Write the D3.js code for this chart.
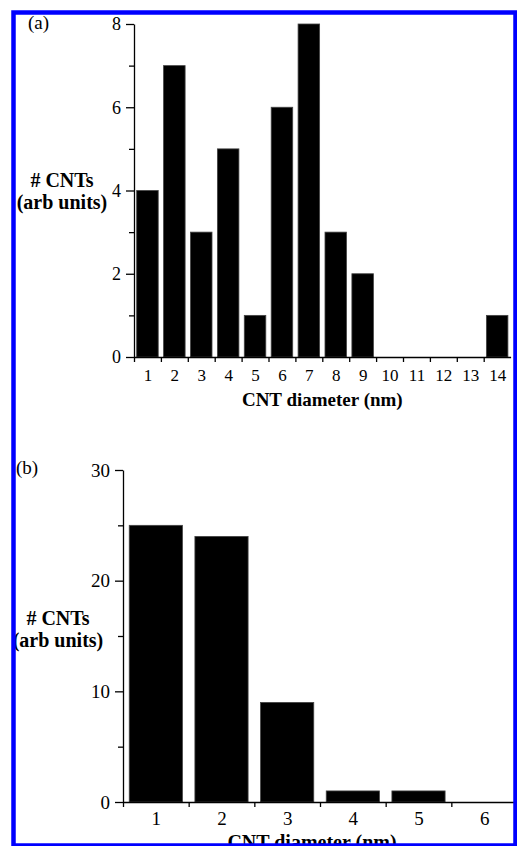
<!DOCTYPE html>
<html><head><meta charset="utf-8">
<script src="https://cdn.jsdelivr.net/npm/d3@7"></script>
<style>html,body{margin:0;padding:0;background:#fff;}svg{display:block;}</style>
</head><body>
<script>
// Panel (a)
const catsA = [1,2,3,4,5,6,7,8,9,10,11,12,13,14];
const valsA = [4,7,3,5,1,6,8,3,2,0,0,0,0,1];
const yTicksA = [0,2,4,6,8];
const yMinorA = [1,3,5,7];
// Panel (b)
const catsB = [1,2,3,4,5,6];
const valsB = [25,24,9,1,1,0];
const yTicksB = [0,10,20,30];
const yMinorB = [5,15,25];

const W = 517, H = 846;
const svg = d3.select("body").append("svg").attr("width", W).attr("height", H);
const serif = "Liberation Serif, Times New Roman, serif";

function panel(cfg) {
  const x = d3.scaleLinear().domain([0.5, cfg.cats.length + 0.5]).range([cfg.x0, cfg.x1]);
  const y = d3.scaleLinear().domain([0, cfg.ymax]).range([cfg.y0, cfg.y1]);
  const g = svg.append("g");
  g.selectAll("rect.bar").data(cfg.cats.map((c,i)=>({c, v: cfg.vals[i]})).filter(d=>d.v>0))
    .enter().append("rect").attr("class","bar")
    .attr("x", d => x(d.c - cfg.bw/2)).attr("width", d => x(d.c + cfg.bw/2) - x(d.c - cfg.bw/2))
    .attr("y", d => y(d.v)).attr("height", d => y(0) - y(d.v))
    .attr("fill", "#000").attr("stroke", "#444").attr("stroke-width", 0.8);
  const ya = g.append("g").attr("transform", `translate(${cfg.x0},0)`)
    .call(d3.axisLeft(y).tickValues(cfg.yTicks).tickSize(8).tickSizeOuter(0).tickPadding(5).tickFormat(d3.format("d")));
  ya.selectAll("text").attr("font-family", serif).attr("font-size", cfg.yfs).attr("fill","#000");
  ya.selectAll("line,path").attr("stroke","#000").attr("stroke-width",1.3);
  const ym = g.append("g").attr("transform", `translate(${cfg.x0},0)`)
    .call(d3.axisLeft(y).tickValues(cfg.yMinor).tickSize(5).tickSizeOuter(0).tickFormat(""));
  ym.select("path").remove();
  ym.selectAll("line").attr("stroke","#000").attr("stroke-width",1.3);
  const boundaries = d3.range(0, cfg.cats.length).map(i => i + 0.5);
  const xa = g.append("g").attr("transform", `translate(0,${cfg.y0})`)
    .call(d3.axisBottom(x).tickValues(boundaries).tickSize(5).tickSizeOuter(0).tickFormat(""));
  xa.selectAll("line,path").attr("stroke","#000").attr("stroke-width",1.3);
  const xl = g.append("g").attr("transform", `translate(0,${cfg.y0})`)
    .call(d3.axisBottom(x).tickValues(cfg.cats).tickSize(0).tickPadding(cfg.xpad).tickFormat(d3.format("d")));
  xl.select("path").remove();
  xl.selectAll("text").attr("font-family", serif).attr("font-size", cfg.xfs).attr("fill","#000");
  svg.append("text").attr("x", (cfg.x0 + cfg.x1)/2 + cfg.xtdx).attr("y", cfg.xty)
    .attr("text-anchor","middle").attr("font-family", serif).attr("font-weight","bold")
    .attr("font-size", cfg.xtfs).text("CNT diameter (nm)");
  svg.append("text").attr("x", cfg.ytx).attr("y", cfg.yty1).attr("text-anchor","middle")
    .attr("font-family", serif).attr("font-weight","bold").attr("font-size", 20).text("# CNTs");
  svg.append("text").attr("x", cfg.ytx).attr("y", cfg.yty2).attr("text-anchor","middle")
    .attr("font-family", serif).attr("font-weight","bold").attr("font-size", 20).text("(arb units)");
  svg.append("text").attr("x", cfg.lx).attr("y", cfg.ly)
    .attr("font-family", serif).attr("font-size", 19).text(cfg.label);
}

panel({cats: catsA, vals: valsA, yTicks: yTicksA, yMinor: yMinorA, ymax: 8,
  x0: 134, x1: 510.6, y0: 357, y1: 24, bw: 0.8, yfs: 18, xfs: 17, xpad: 12,
  xtdx: 0, xty: 406, xtfs: 19, ytx: 62, yty1: 187, yty2: 209, lx: 28, ly: 29, label: "(a)"});

panel({cats: catsB, vals: valsB, yTicks: yTicksB, yMinor: yMinorB, ymax: 30,
  x0: 123, x1: 517, y0: 802, y1: 470, bw: 0.81, yfs: 19, xfs: 19, xpad: 10,
  xtdx: -8, xty: 849, xtfs: 20, ytx: 58, yty1: 625, yty2: 647, lx: 16, ly: 474, label: "(b)"});

svg.append("rect").attr("x", 13.5).attr("y", 12.5).attr("width", 502).attr("height", 833)
  .attr("fill","none").attr("stroke","#0000ff").attr("stroke-width",4.5);
</script>
</body></html>
